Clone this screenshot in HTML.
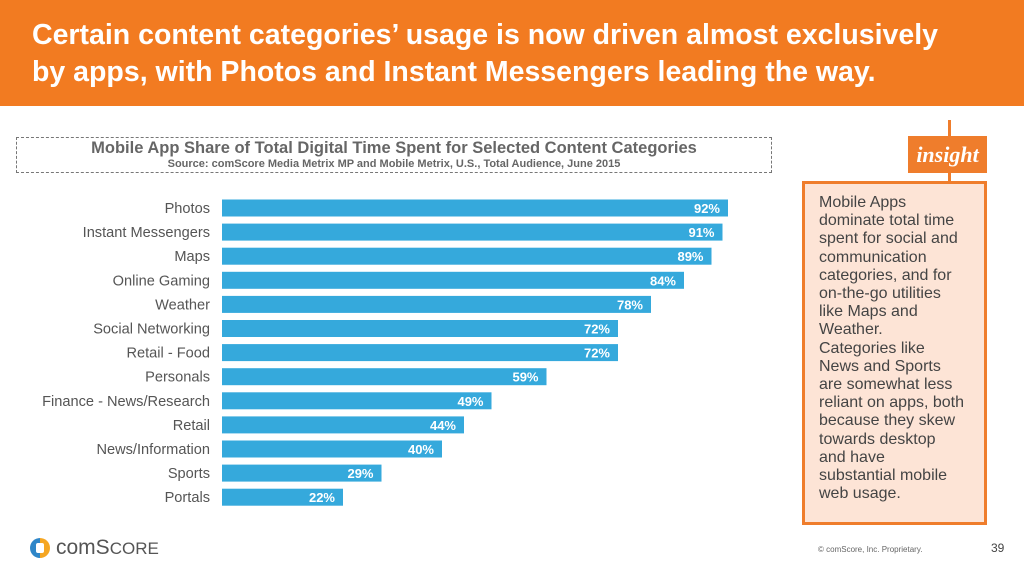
<!DOCTYPE html>
<html><head><meta charset="utf-8"><style>
body{margin:0;width:1024px;height:576px;background:#fff;position:relative;overflow:hidden;font-family:"Liberation Sans",Arial,sans-serif}
.hdr{position:absolute;left:0;top:0;width:1024px;height:106px;background:#f27b21}
.hdr div{position:absolute;left:32px;top:17px;color:#fff;font-weight:bold;font-size:28.5px;line-height:37px;white-space:nowrap}
.tbox{position:absolute;left:16px;top:137px;width:754px;height:34px;border:1px dashed #777;text-align:center;color:#666;font-weight:bold;white-space:nowrap}
.ins{position:absolute;left:802px;top:181px;width:179px;height:338px;border:3px solid #ef7d2c;background:#fde4d6}
.ins div{position:absolute;left:14px;top:10px;font-size:16px;line-height:18.2px;color:#444;white-space:nowrap}
</style></head><body>
<div class="hdr"><div>Certain content categories’ usage is now driven almost exclusively<br>by apps, with Photos and Instant Messengers leading the way.</div></div>
<div class="tbox"><div style="font-size:16.5px;margin-top:1px">Mobile App Share of Total Digital Time Spent for Selected Content Categories</div><div style="font-size:11px;margin-top:0px">Source: comScore Media Metrix MP and Mobile Metrix, U.S., Total Audience, June 2015</div></div>
<div style="position:absolute;left:948px;top:120px;width:3px;height:62px;background:#ef7d2c"></div>
<div style="position:absolute;left:908px;top:136px;width:79px;height:37px;background:#ef7d2c;color:#fff;font:italic bold 22px 'Liberation Serif',serif;text-align:center;line-height:37px">insight</div>
<div class="ins"><div>Mobile Apps<br>dominate total time<br>spent for social and<br>communication<br>categories, and for<br>on-the-go utilities<br>like Maps and<br>Weather.<br>Categories like<br>News and Sports<br>are somewhat less<br>reliant on apps, both<br>because they skew<br>towards desktop<br>and have<br>substantial mobile<br>web usage.</div></div>
<svg id="chart" width="1024" height="576" style="position:absolute;left:0;top:0"></svg>
<div style="position:absolute;left:30px;top:538px;width:20px;height:20px;border-radius:50%;background:conic-gradient(#f5a623 0 50%,#2e86c8 50% 100%)"><div style="position:absolute;left:6px;top:5px;width:8px;height:10px;background:#fff;border-radius:2px"></div></div>
<div style="position:absolute;left:56px;top:536px;font-size:21px;color:#555">comS<span style="font-size:17px">CORE</span></div>
<div style="position:absolute;left:818px;top:545px;font-size:8px;color:#666">© comScore, Inc. Proprietary.</div>
<div style="position:absolute;left:991px;top:541px;font-size:12px;color:#444">39</div>
<script>
const categories=["Photos","Instant Messengers","Maps","Online Gaming","Weather","Social Networking","Retail - Food","Personals","Finance - News/Research","Retail","News/Information","Sports","Portals"];
const values=[92,91,89,84,78,72,72,59,49,44,40,29,22];
const x0=222,pxPer=5.5,y0=208,step=24.1,bh=17;
const xs=v=>x0+v*pxPer, ys=i=>y0+i*step;
const svg=document.getElementById('chart');const ns='http://www.w3.org/2000/svg';
categories.forEach((c,i)=>{
 const r=document.createElementNS(ns,'rect');
 r.setAttribute('x',x0);r.setAttribute('y',ys(i)-bh/2);r.setAttribute('width',xs(values[i])-x0);r.setAttribute('height',bh);r.setAttribute('fill','#35a9dc');
 
 
 svg.appendChild(r);
 const l=document.createElementNS(ns,'text');
 l.setAttribute('x',210);l.setAttribute('y',ys(i)+5);l.setAttribute('text-anchor','end');l.setAttribute('font-size','14.6');l.setAttribute('fill','#555');l.setAttribute('font-family','Liberation Sans, sans-serif');l.textContent=c;
 
 
 svg.appendChild(l);
 const v=document.createElementNS(ns,'text');
 v.setAttribute('x',xs(values[i])-8);v.setAttribute('y',ys(i)+5);v.setAttribute('text-anchor','end');v.setAttribute('font-size','13');v.setAttribute('font-weight','bold');v.setAttribute('fill','#fff');v.setAttribute('font-family','Liberation Sans, sans-serif');v.textContent=values[i]+'%';
 
 
 svg.appendChild(v);
});
</script>
</body></html>
